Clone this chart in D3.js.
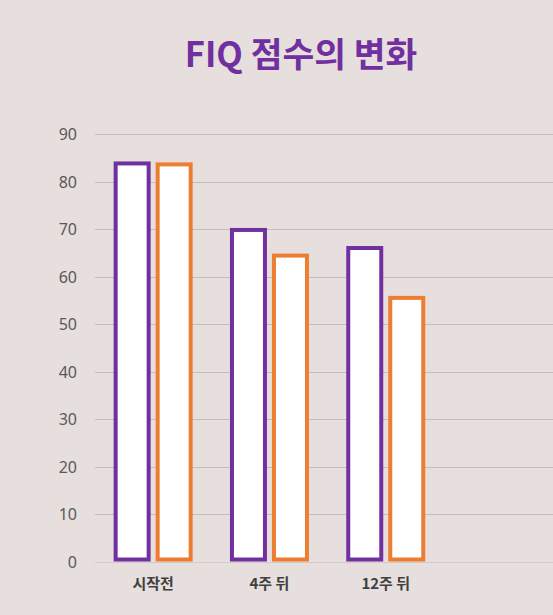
<!DOCTYPE html>
<html>
<head>
<meta charset="utf-8">
<script src="https://cdn.jsdelivr.net/npm/d3@7"></script>
<style>
  html, body { margin: 0; padding: 0; background: #e7dfdd; }
  svg { display: block; }
</style>
</head>
<body>
<div id="chart"></div>
<script>
// data
var categories = ["시작전", "4주 뒤", "12주 뒤"]
var seriesNames = ["A", "B"]
var seriesA = [83.8, 69.8, 66.0]
var seriesB = [83.6, 64.4, 55.5]
var yTicks = [0, 10, 20, 30, 40, 50, 60, 70, 80, 90]
var colors = ["#7030a0", "#ed7d31"]

var width = 553, height = 615
var margin = {top: 134, bottom: 53, left: 95}

var svg = d3.select("#chart")
    .append("svg")
    .attr("width", width)
    .attr("height", height)

svg.append("rect")
    .attr("width", width)
    .attr("height", height)
    .attr("fill", "#e7dfdd")

// title
svg.append("text")
    .attr("x", 301)
    .attr("y", 67)
    .attr("text-anchor", "middle")
    .attr("font-family", "'Noto Sans CJK KR', 'Noto Sans', sans-serif")
    .attr("font-weight", "bold")
    .attr("font-size", "34.5px")
    .attr("fill", "#7030a0")
    .text("FIQ 점수의 변화")

var y = d3.scaleLinear()
    .domain([0, 90])
    .range([height - margin.bottom - 0.5, margin.top])

var step = 116.3
var x = d3.scaleBand()
    .domain(categories)
    .range([margin.left, margin.left + categories.length * step])

// two bars of ~37px with a ~5px gap, centred in each band
var groupW = 79
var x1 = d3.scaleBand()
    .domain(seriesNames)
    .range([(step - groupW) / 2, (step + groupW) / 2])
    .paddingInner(5 / 42)

// gridlines
svg.append("g")
    .selectAll("line")
    .data(yTicks)
    .enter()
    .append("line")
    .attr("x1", margin.left)
    .attr("x2", width)
    .attr("y1", d => Math.round(y(d)) + 0.5)
    .attr("y2", d => Math.round(y(d)) + 0.5)
    .attr("stroke", d => d == 0 ? "#d4cbc9" : "#c6bdbb")
    .attr("stroke-width", 1)

// y tick labels
svg.append("g")
    .selectAll("text")
    .data(yTicks)
    .enter()
    .append("text")
    .attr("x", 77)
    .attr("y", d => y(d) + 6)
    .attr("text-anchor", "end")
    .attr("font-family", "'Noto Sans', 'Open Sans', sans-serif")
    .attr("font-size", "16px")
    .attr("fill", "#595959")
    .text(d => d)

// bars
var rows = categories.map((c, i) => ({cat: c, values: [seriesA[i], seriesB[i]]}))
var sw = 4

var groups = svg.append("g")
    .selectAll("g")
    .data(rows)
    .enter()
    .append("g")
    .attr("transform", d => "translate(" + x(d.cat) + ",0)")

groups.selectAll("rect")
    .data(d => d.values.map((v, j) => ({name: seriesNames[j], value: v, j: j})))
    .enter()
    .append("rect")
    .attr("x", d => x1(d.name) + sw / 2)
    .attr("y", d => y(d.value))
    .attr("width", x1.bandwidth() - sw)
    .attr("height", d => y(0) - y(d.value) - sw / 2)
    .attr("fill", "#ffffff")
    .attr("stroke", d => colors[d.j])
    .attr("stroke-width", sw)

// x labels
svg.append("g")
    .selectAll("text")
    .data(categories)
    .enter()
    .append("text")
    .attr("x", d => x(d) + x.bandwidth() / 2)
    .attr("y", 589)
    .attr("text-anchor", "middle")
    .attr("font-family", "'Noto Sans CJK KR', sans-serif")
    .attr("font-weight", "bold")
    .attr("font-size", "15px")
    .attr("fill", "#404040")
    .text(d => d)
</script>
</body>
</html>
